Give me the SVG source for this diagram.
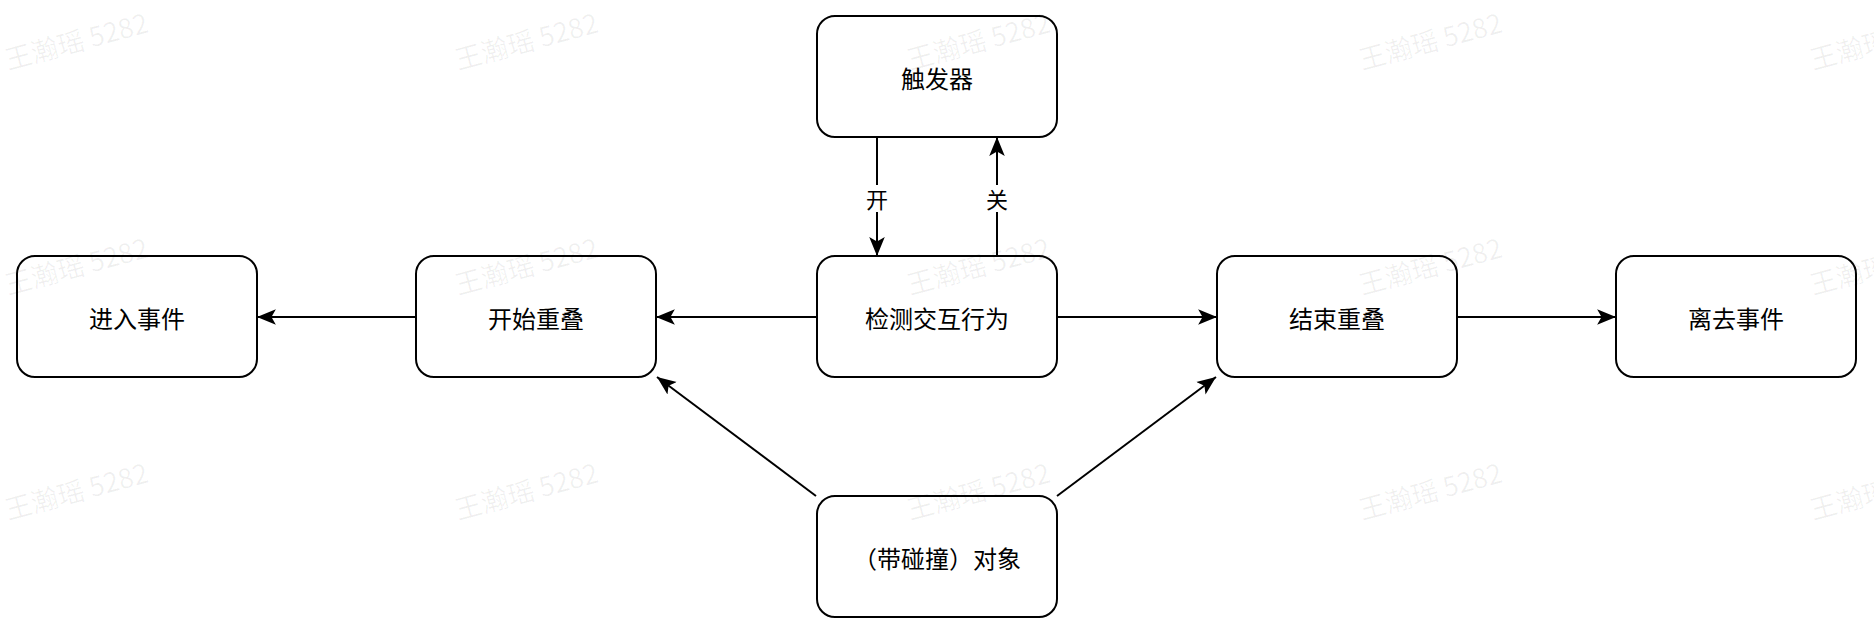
<svg xmlns="http://www.w3.org/2000/svg" width="1874" height="634" viewBox="0 0 1874 634">
<defs>
<style>
.node rect{fill:#fff;stroke:#000;stroke-width:2}
.node text{font-family:"Noto Sans CJK SC","Noto Sans",sans-serif;font-size:24px;fill:#000;text-anchor:middle;dominant-baseline:central}
.edge{stroke:#000;stroke-width:2;fill:none;marker-end:url(#arr)}
.lbl{font-family:"Noto Sans CJK SC","Noto Sans",sans-serif;font-size:22px;fill:#000;text-anchor:middle;dominant-baseline:central}
.wm{font-family:"Noto Sans CJK SC","Noto Sans",sans-serif;font-size:27px;fill:#000;fill-opacity:0.06}
</style>
<marker id="arr" markerUnits="userSpaceOnUse" markerWidth="20" markerHeight="20" viewBox="0 -8 18 16" refX="17" refY="0" orient="auto">
<path d="M0,-7 L17,0 L0,7 L4,0 Z" fill="#000"/>
</marker>
</defs>
<rect width="1874" height="634" fill="#fff"/>
<g id="connectors">
<line class="edge" x1="877" y1="137" x2="877" y2="256"/>
<line class="edge" x1="997" y1="256" x2="997" y2="137"/>
<line class="edge" x1="817" y1="317" x2="656" y2="317"/>
<line class="edge" x1="416" y1="317" x2="257" y2="317"/>
<line class="edge" x1="1057" y1="317" x2="1217" y2="317"/>
<line class="edge" x1="1457" y1="317" x2="1616" y2="317"/>
<line class="edge" x1="816" y1="496" x2="657" y2="377"/>
<line class="edge" x1="1057" y1="496" x2="1216" y2="377"/>
<rect x="866" y="185" width="22" height="27" fill="#fff"/>
<text class="lbl" x="877" y="198">开</text>
<rect x="986" y="185" width="22" height="27" fill="#fff"/>
<text class="lbl" x="997" y="198">关</text>
</g>
<g id="trigger" class="node"><rect x="817" y="16" width="240" height="121" rx="18"/><text x="937" y="77">触发器</text></g>
<g id="enter" class="node"><rect x="17" y="256" width="240" height="121" rx="18"/><text x="137" y="317">进入事件</text></g>
<g id="beginOverlap" class="node"><rect x="416" y="256" width="240" height="121" rx="18"/><text x="536" y="317">开始重叠</text></g>
<g id="detect" class="node"><rect x="817" y="256" width="240" height="121" rx="18"/><text x="937" y="317">检测交互行为</text></g>
<g id="endOverlap" class="node"><rect x="1217" y="256" width="240" height="121" rx="18"/><text x="1337" y="317">结束重叠</text></g>
<g id="leave" class="node"><rect x="1616" y="256" width="240" height="121" rx="18"/><text x="1736" y="317">离去事件</text></g>
<g id="object" class="node"><rect x="817" y="496" width="240" height="121" rx="18"/><text x="937" y="557">（带碰撞）对象</text></g>
<g id="watermarks">
<text class="wm" transform="translate(8,70) rotate(-15)">王瀚瑶 5282</text>
<text class="wm" transform="translate(458,70) rotate(-15)">王瀚瑶 5282</text>
<text class="wm" transform="translate(910,70) rotate(-15)">王瀚瑶 5282</text>
<text class="wm" transform="translate(1362,70) rotate(-15)">王瀚瑶 5282</text>
<text class="wm" transform="translate(1813,70) rotate(-15)">王瀚瑶 5282</text>
<text class="wm" transform="translate(8,295) rotate(-15)">王瀚瑶 5282</text>
<text class="wm" transform="translate(458,295) rotate(-15)">王瀚瑶 5282</text>
<text class="wm" transform="translate(910,295) rotate(-15)">王瀚瑶 5282</text>
<text class="wm" transform="translate(1362,295) rotate(-15)">王瀚瑶 5282</text>
<text class="wm" transform="translate(1813,295) rotate(-15)">王瀚瑶 5282</text>
<text class="wm" transform="translate(8,520) rotate(-15)">王瀚瑶 5282</text>
<text class="wm" transform="translate(458,520) rotate(-15)">王瀚瑶 5282</text>
<text class="wm" transform="translate(910,520) rotate(-15)">王瀚瑶 5282</text>
<text class="wm" transform="translate(1362,520) rotate(-15)">王瀚瑶 5282</text>
<text class="wm" transform="translate(1813,520) rotate(-15)">王瀚瑶 5282</text>
</g>
</svg>
